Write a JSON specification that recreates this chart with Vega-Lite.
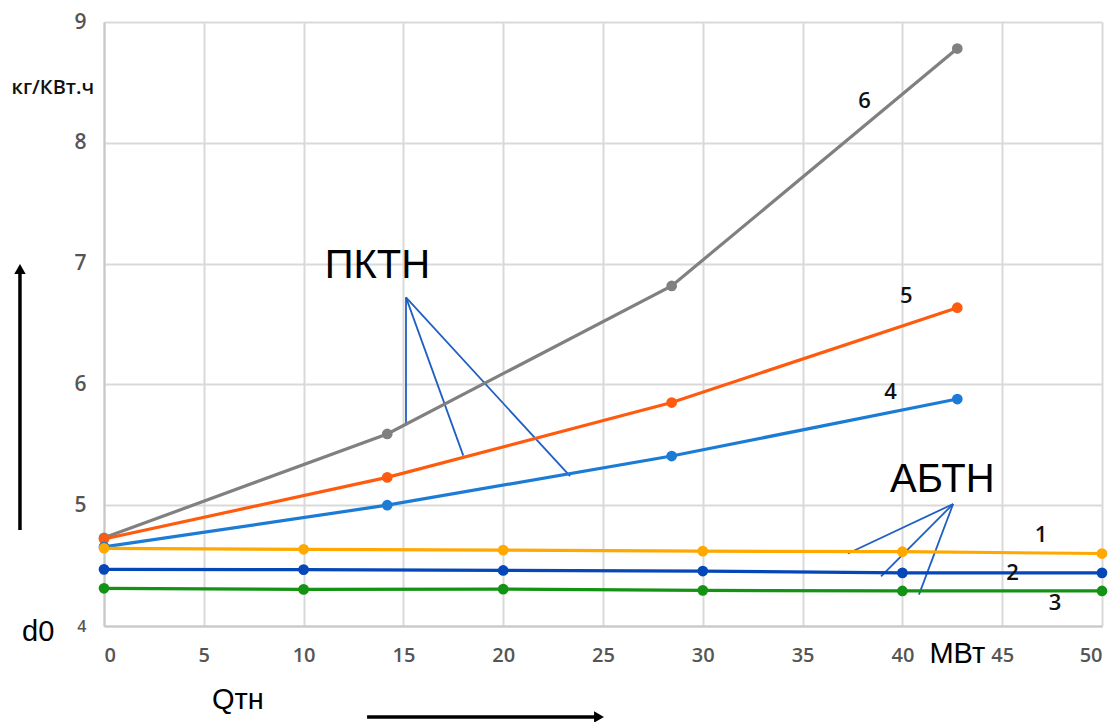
{
  "$schema": "https://vega.github.io/schema/vega-lite/v6.json",
  "width": 998,
  "height": 604,
  "autosize": "none",
  "padding": {"left": 104, "top": 22, "right": 13, "bottom": 96},
  "background": "white",
  "config": {"view": {"stroke": null}},
  "encoding": {
    "x": {
      "field": "x", "type": "quantitative",
      "scale": {"domain": [0, 50], "nice": false, "zero": false},
      "axis": {
        "values": [0, 5, 10, 15, 20, 25, 30, 35, 40, 45, 50],
        "title": null, "grid": true, "gridColor": "#d9d9d9", "gridWidth": 2,
        "domainColor": "#c8c8c8", "domainWidth": 2, "ticks": false,
        "labelFont": "Open Sans", "labelFontSize": 20, "labelFontWeight": 600,
        "labelColor": "#555555", "labelPadding": 19
      }
    },
    "y": {
      "field": "y", "type": "quantitative",
      "scale": {"domain": [4, 9], "nice": false, "zero": false},
      "axis": {
        "values": [4, 5, 6, 7, 8, 9],
        "title": null, "grid": true, "gridColor": "#d9d9d9", "gridWidth": 2,
        "domainColor": "#c8c8c8", "domainWidth": 2, "ticks": false,
        "labelFont": "Open Sans",
        "labelFontSize": {"condition": {"test": "datum.value == 4", "value": 16}, "value": 21},
        "labelFontWeight": 600,
        "labelColor": "#555555", "labelPadding": 18
      }
    }
  },
  "layer": [
    {
      "data": {"values": [
        {"x": 15.13, "y": 6.72, "x2": 15.13, "y2": 5.66},
        {"x": 15.13, "y": 6.72, "x2": 18.0, "y2": 5.41},
        {"x": 15.13, "y": 6.72, "x2": 23.35, "y2": 5.24},
        {"x": 42.54, "y": 5.01, "x2": 37.27, "y2": 4.6},
        {"x": 42.54, "y": 5.01, "x2": 38.93, "y2": 4.41},
        {"x": 42.54, "y": 5.01, "x2": 40.83, "y2": 4.26}
      ]},
      "mark": {"type": "rule", "color": "#1f5fc4", "strokeWidth": 1.8},
      "encoding": {"x2": {"field": "x2"}, "y2": {"field": "y2"}}
    },
    {
      "data": {"name": "series", "values": [
        {"s": "6", "x": 0, "y": 4.73},
        {"s": "6", "x": 14.19, "y": 5.59},
        {"s": "6", "x": 28.44, "y": 6.815},
        {"s": "6", "x": 42.75, "y": 8.78},
        {"s": "5", "x": 0, "y": 4.72},
        {"s": "5", "x": 14.19, "y": 5.23},
        {"s": "5", "x": 28.44, "y": 5.85},
        {"s": "5", "x": 42.75, "y": 6.635},
        {"s": "4", "x": 0, "y": 4.655},
        {"s": "4", "x": 14.19, "y": 5.0},
        {"s": "4", "x": 28.44, "y": 5.407},
        {"s": "4", "x": 42.75, "y": 5.879},
        {"s": "1", "x": 0, "y": 4.643},
        {"s": "1", "x": 10, "y": 4.635},
        {"s": "1", "x": 20, "y": 4.628},
        {"s": "1", "x": 30, "y": 4.62},
        {"s": "1", "x": 40, "y": 4.615},
        {"s": "1", "x": 50, "y": 4.6},
        {"s": "2", "x": 0, "y": 4.469},
        {"s": "2", "x": 10, "y": 4.467},
        {"s": "2", "x": 20, "y": 4.46},
        {"s": "2", "x": 30, "y": 4.455},
        {"s": "2", "x": 40, "y": 4.44},
        {"s": "2", "x": 50, "y": 4.44},
        {"s": "3", "x": 0, "y": 4.312},
        {"s": "3", "x": 10, "y": 4.303},
        {"s": "3", "x": 20, "y": 4.305},
        {"s": "3", "x": 30, "y": 4.295},
        {"s": "3", "x": 40, "y": 4.29},
        {"s": "3", "x": 50, "y": 4.29}
      ]},
      "layer": [
        {
          "mark": {"type": "line", "strokeWidth": 3.2},
          "encoding": {
            "color": {"field": "s", "type": "nominal", "legend": null,
              "scale": {"domain": ["1", "2", "3", "4", "5", "6"],
                "range": ["#ffa800", "#0546b8", "#139313", "#1c7cd5", "#ff5b0f", "#808080"]}}
          }
        },
        {
          "mark": {"type": "circle", "size": 115, "opacity": 1},
          "encoding": {
            "color": {"field": "s", "type": "nominal", "legend": null}
          }
        }
      ]
    },
    {
      "data": {"values": [
        {"x": 38.1, "y": 8.35, "t": "6"},
        {"x": 40.2, "y": 6.73, "t": "5"},
        {"x": 39.4, "y": 5.94, "t": "4"},
        {"x": 46.94, "y": 4.75, "t": "1"},
        {"x": 45.52, "y": 4.44, "t": "2"},
        {"x": 47.65, "y": 4.19, "t": "3"}
      ]},
      "mark": {"type": "text", "font": "Open Sans", "fontSize": 22, "fontWeight": 600, "color": "#111", "baseline": "middle", "align": "center"},
      "encoding": {"text": {"field": "t"}}
    },
    {
      "data": {"values": [
        {"x": 13.7, "y": 6.98, "t": "ПКТН"},
        {"x": 42.0, "y": 5.21, "t": "АБТН"}
      ]},
      "mark": {"type": "text", "font": "Liberation Sans", "fontSize": 40, "color": "#000", "baseline": "middle", "align": "center"},
      "encoding": {"text": {"field": "t"}}
    },
    {
      "data": {"values": [
        {"x": -3.3, "y": 3.95, "t": "d0"},
        {"x": 6.71, "y": 3.39, "t": "Qтн"},
        {"x": 42.75, "y": 3.77, "t": "МВт"}
      ]},
      "mark": {"type": "text", "font": "Liberation Sans", "fontSize": 29, "color": "#000", "baseline": "middle", "align": "center"},
      "encoding": {"text": {"field": "t"}}
    },
    {
      "data": {"values": [
        {"x": -2.56, "y": 8.45, "t": "кг/КВт.ч"}
      ]},
      "mark": {"type": "text", "font": "Open Sans", "fontSize": 20, "fontWeight": 600, "color": "#111", "baseline": "middle", "align": "center"},
      "encoding": {"text": {"field": "t"}}
    },
    {
      "data": {"values": [
        {"x": -4.21, "y": 4.795, "x2": -4.21, "y2": 6.93},
        {"x": 13.18, "y": 3.247, "x2": 24.7, "y2": 3.247}
      ]},
      "mark": {"type": "rule", "color": "#000", "strokeWidth": 3.5},
      "encoding": {"x2": {"field": "x2"}, "y2": {"field": "y2"}}
    },
    {
      "data": {"values": [{"x": -4.21, "y": 6.955}]},
      "mark": {"type": "point", "shape": "triangle-up", "filled": true, "color": "#000", "size": 130, "opacity": 1}
    },
    {
      "data": {"values": [{"x": 24.8, "y": 3.247}]},
      "mark": {"type": "point", "shape": "triangle-right", "filled": true, "color": "#000", "size": 130, "opacity": 1}
    }
  ]
}
